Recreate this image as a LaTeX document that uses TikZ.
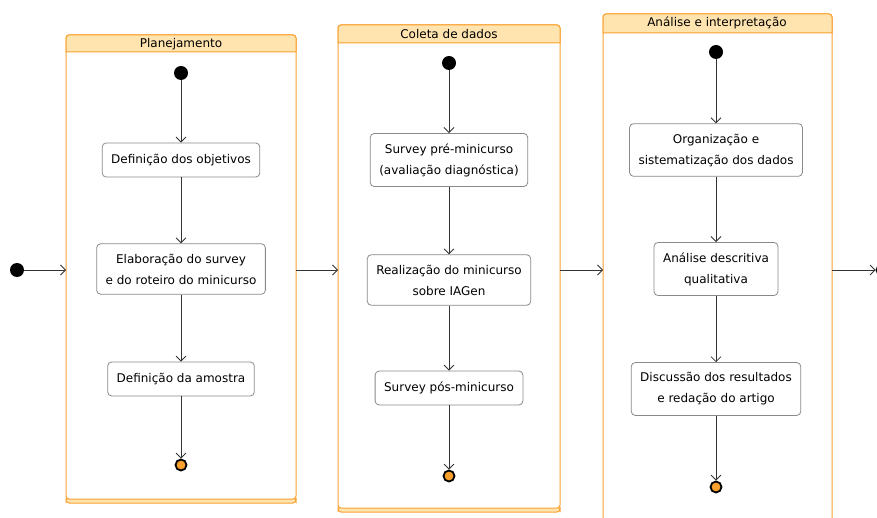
\documentclass[tikz,border=0pt]{standalone}
\usepackage{fontspec}
\setmainfont{DejaVu Sans}
\usetikzlibrary{arrows.meta}
\definecolor{laneline}{HTML}{F9A02E}
\definecolor{lanefill}{HTML}{FFE4B0}
\definecolor{boxline}{HTML}{8A8A8A}
\definecolor{flowline}{HTML}{333333}

\begin{document}
\begin{tikzpicture}[x=1pt, y=-1pt,
    font=\fontsize{12}{21}\selectfont,
    stepbox/.style={draw=boxline, line width=0.8pt, fill=white, rounded corners=4pt, align=center, inner xsep=9pt, inner ysep=10pt, minimum height=34pt},
    startdot/.style={circle, fill=black, inner sep=0pt, minimum size=14pt},
    enddot/.style={circle, draw=black, line width=1.8pt, fill=laneline, inner sep=0pt, minimum size=11pt},
    flow/.style={draw=flowline, line width=0.8pt, -{Straight Barb[length=5pt, width=10pt]}},
    laneframe/.style={draw=laneline, line width=1pt}]
\useasboundingbox (0,0) rectangle (877,518);

% lanes
\draw[laneframe, fill=lanefill, rounded corners=3pt] (66,498) rectangle (296,503);
\draw[laneframe, fill=white, rounded corners=3pt] (66,35) rectangle (296,499);
\draw[laneframe, fill=lanefill] (66,52) {[rounded corners=3pt] -- (66,35) -- (296,35)} -- (296,52) -- cycle;
\node (lane1) at (181,44) {Planejamento};

\draw[laneframe, fill=lanefill, rounded corners=3pt] (338,507) rectangle (560,512);
\draw[laneframe, fill=white, rounded corners=3pt] (338,25) rectangle (560,508);
\draw[laneframe, fill=lanefill] (338,43) {[rounded corners=3pt] -- (338,25) -- (560,25)} -- (560,43) -- cycle;
\node (lane2) at (449,34) {Coleta de dados};

\draw[laneframe, fill=white, rounded corners=3pt] (603,14) rectangle (832,530);
\draw[laneframe, fill=lanefill] (603,33) {[rounded corners=3pt] -- (603,14) -- (832,14)} -- (832,33) -- cycle;
\node (lane3) at (717,23) {Análise e interpretação};

% Planejamento
\node[startdot] (s1) at (181,73) {};
\node[stepbox] (objetivos) at (181,160) {Definição dos objetivos};
\node[stepbox] (survey) at (181,269) {Elaboração do survey\\e do roteiro do minicurso};
\node[stepbox] (amostra) at (181,379) {Definição da amostra};
\node[enddot] (e1) at (181,465) {};
\draw[flow] (s1) -- (objetivos);
\draw[flow] (objetivos) -- (survey);
\draw[flow] (survey) -- (amostra);
\draw[flow] (amostra) -- (e1);

% Coleta de dados
\node[startdot] (s2) at (449,63) {};
\node[stepbox] (pre) at (449,160) {Survey pré-minicurso\\(avaliação diagnóstica)};
\node[stepbox] (minicurso) at (449,280) {Realização do minicurso\\sobre IAGen};
\node[stepbox] (pos) at (449,388) {Survey pós-minicurso};
\node[enddot] (e2) at (449,476) {};
\draw[flow] (s2) -- (pre);
\draw[flow] (pre) -- (minicurso);
\draw[flow] (minicurso) -- (pos);
\draw[flow] (pos) -- (e2);

% Analise e interpretacao
\node[startdot] (s3) at (716,52) {};
\node[stepbox] (organizacao) at (716,150) {Organização e\\sistematização dos dados};
\node[stepbox] (descritiva) at (716,269) {Análise descritiva\\qualitativa};
\node[stepbox] (discussao) at (716,389) {Discussão dos resultados\\e redação do artigo};
\node[enddot] (e3) at (716,487) {};
\draw[flow] (s3) -- (organizacao);
\draw[flow] (organizacao) -- (descritiva);
\draw[flow] (descritiva) -- (discussao);
\draw[flow] (discussao) -- (e3);

% between lanes
\node[startdot] (s0) at (17,270) {};
\coordinate (in1) at (66,270);
\coordinate (out1) at (296,270);
\coordinate (in2) at (338,270);
\coordinate (out2) at (560,270);
\coordinate (in3) at (603,270);
\coordinate (out3) at (832,270);
\node[enddot] (e0) at (882,270) {};
\draw[flow] (s0) -- (in1);
\draw[flow] (out1) -- (in2);
\draw[flow] (out2) -- (in3);
\draw[flow] (out3) -- (e0);

\end{tikzpicture}
\end{document}
